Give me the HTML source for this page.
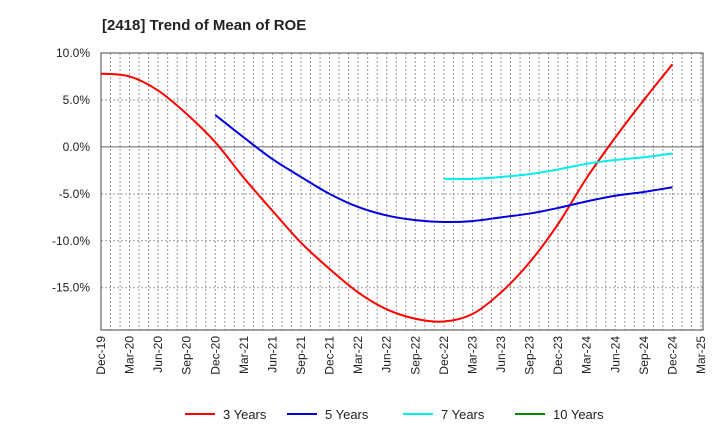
<!DOCTYPE html>
<html><head><meta charset="utf-8"><style>
body{margin:0;background:#fff;font-family:"Liberation Sans",sans-serif}
svg text{font-family:"Liberation Sans",sans-serif}
</style></head><body>
<svg id="c" width="720" height="440" xmlns="http://www.w3.org/2000/svg">
<text x="102" y="30" font-size="15" font-weight="bold" fill="#222">[2418]  Trend of Mean of ROE</text>
<g id="grid"></g><g id="axes"></g><g id="series"></g><g id="legend"></g>
</svg>
<script>
const xLabels=["Dec-19","Mar-20","Jun-20","Sep-20","Dec-20","Mar-21","Jun-21","Sep-21","Dec-21","Mar-22","Jun-22","Sep-22","Dec-22","Mar-23","Jun-23","Sep-23","Dec-23","Mar-24","Jun-24","Sep-24","Dec-24","Mar-25"];
const yTicks=[10,5,0,-5,-10,-15];
const s3=[7.8,7.5,6.0,3.5,0.5,-3.3,-6.8,-10.2,-13.0,-15.5,-17.3,-18.3,-18.6,-17.8,-15.5,-12.3,-8.2,-3.3,1.0,5.0,8.8];
const s5=[3.4,1.0,-1.3,-3.2,-5.0,-6.4,-7.3,-7.8,-8.0,-7.9,-7.5,-7.1,-6.5,-5.8,-5.2,-4.8,-4.3];
const s7=[-3.4,-3.4,-3.2,-2.9,-2.4,-1.8,-1.4,-1.1,-0.7];
const s10=[];
const seriesNames=["3 Years","5 Years","7 Years","10 Years"];
const colors=["#ff0000","#0000dd","#00eeee","#008800"];
const starts=[0,4,12,0];
const L=101,R=703,T=53,B=330,yMax=10,yMin=-19.5;
const qW=(R-L)/21.07;
const X=i=>L+i*qW;
const Y=v=>T+(yMax-v)/(yMax-yMin)*(B-T);
const NS="http://www.w3.org/2000/svg";
function mk(tag,attrs,parent){const e=document.createElementNS(NS,tag);for(const k in attrs)e.setAttribute(k,attrs[k]);parent.appendChild(e);return e;}
const grid=document.getElementById('grid'),axes=document.getElementById('axes'),ser=document.getElementById('series'),leg=document.getElementById('legend');
for(let m=1;m<64;m++){const x=L+m*qW/3;if(x>=R-1)break;
 const g=mk('line',{x1:x,x2:x,y1:T,y2:B,stroke:'#999','stroke-dasharray':'2,2','stroke-width':1},grid);
 
 }
yTicks.forEach(v=>{const y=Y(v);
 const g=mk('line',{x1:L,x2:R,y1:y,y2:y,stroke:v===0?'#666':'#999','stroke-dasharray':v===0?'':'2,2','stroke-width':1},grid);
 
 
 const t=mk('text',{x:90,y:y+4,'text-anchor':'end','font-size':12,fill:'#222'},axes);t.textContent=v.toFixed(1)+'%';
 
 });
const fr=mk('rect',{x:L,y:T,width:R-L,height:B-T,fill:'none',stroke:'#444','stroke-width':1},axes);


xLabels.forEach((lb,i)=>{const x=X(i);
 const t=mk('text',{transform:`translate(${x+4},${B+6}) rotate(-90)`,'text-anchor':'end','font-size':12,fill:'#222'},axes);t.textContent=lb;
 
 });
function path(pts){if(pts.length<2)return '';let d=`M${pts[0][0]},${pts[0][1]}`;
 for(let i=0;i<pts.length-1;i++){const p0=pts[Math.max(i-1,0)],p1=pts[i],p2=pts[i+1],p3=pts[Math.min(i+2,pts.length-1)];
 d+=` C${p1[0]+(p2[0]-p0[0])/6},${p1[1]+(p2[1]-p0[1])/6} ${p2[0]-(p3[0]-p1[0])/6},${p2[1]-(p3[1]-p1[1])/6} ${p2[0]},${p2[1]}`;}return d;}
[s3,s5,s7,s10].forEach((s,k)=>{const pts=s.map((v,i)=>[X(starts[k]+i),Y(v)]);
 const p=mk('path',{d:path(pts),fill:'none',stroke:colors[k],'stroke-width':2},ser);
 
 });
const lx=[185,287,403,515];
seriesNames.forEach((n,k)=>{const g=mk('g',{},leg);
 
 
 mk('line',{x1:lx[k],x2:lx[k]+30,y1:414,y2:414,stroke:colors[k],'stroke-width':2},g);
 const t=mk('text',{x:lx[k]+38,y:419,'font-size':13,fill:'#222'},g);t.textContent=n;});
</script>
</body></html>
